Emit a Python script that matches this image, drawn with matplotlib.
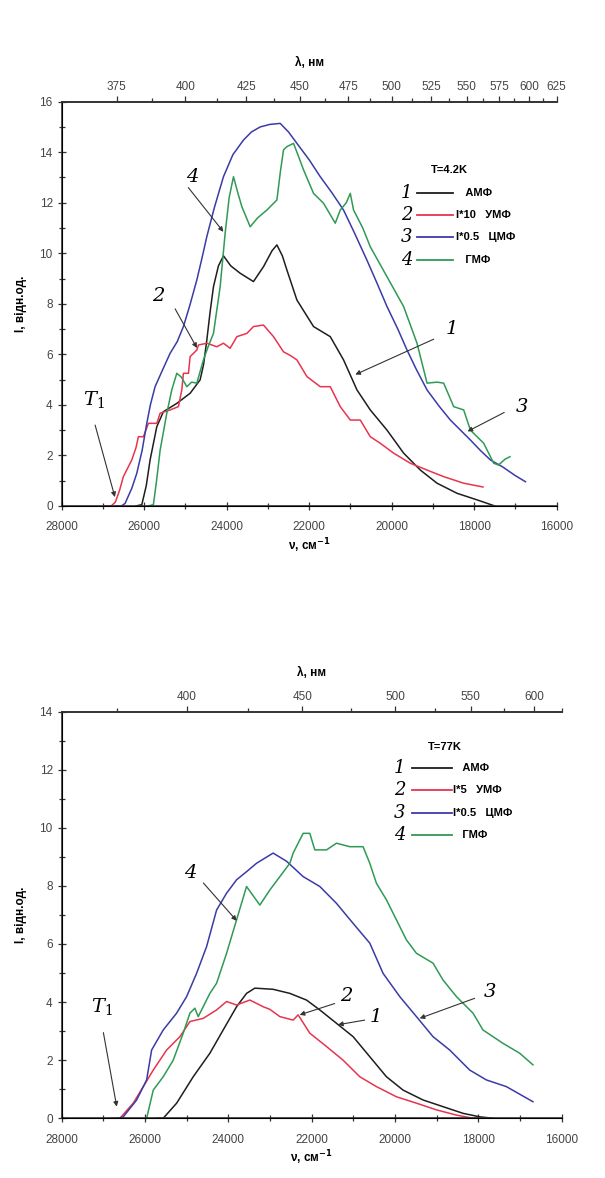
import matplotlib
matplotlib.use('Agg')
import matplotlib.pyplot as plt
from matplotlib.ticker import MultipleLocator

plt.rcParams['font.family'] = ['Liberation Sans', 'DejaVu Sans']

# --- T = 4.2 K (wavenumber, cm^-1 / intensity, arb. units) ---
amf_42_x = [26200, 26058, 25950, 25857, 25694, 25534, 25209, 24886, 24644, 24560, 24481, 24400,
            24320, 24200, 24078, 23900, 23673, 23350, 23107, 22900, 22782, 22650, 22540, 22297,
            21894, 21488, 21166, 20840, 20518, 20112, 19709, 19304, 18899, 18413, 17928, 17500]
amf_42_y = [0, 0.05, 0.8, 1.82, 3.14, 3.73, 4.06, 4.46, 4.99, 5.6, 6.57, 7.7,
            8.68, 9.5, 9.9, 9.5, 9.21, 8.88, 9.47, 10.1, 10.33, 9.9, 9.34, 8.15,
            7.1, 6.7, 5.78, 4.59, 3.8, 3.0, 2.09, 1.42, 0.9, 0.5, 0.24, 0.0]

umf_42_x = [26950, 26800, 26700, 26600, 26505, 26400, 26301, 26200, 26140, 26019, 25898, 25694,
            25614, 25372, 25170, 25088, 25049, 24927, 24886, 24724, 24684, 24481, 24238, 24078,
            23916, 23753, 23510, 23350, 23107, 22864, 22622, 22450, 22297, 22054, 21731, 21488,
            21246, 21003, 20760, 20518, 20275, 19952, 19547, 19141, 18738, 18253, 17785]
umf_42_y = [0, 0, 0.15, 0.6, 1.16, 1.5, 1.82, 2.3, 2.74, 2.74, 3.27, 3.27,
            3.67, 3.8, 3.93, 4.59, 5.25, 5.25, 5.91, 6.17, 6.37, 6.44, 6.3, 6.44,
            6.24, 6.7, 6.83, 7.1, 7.16, 6.7, 6.1, 5.95, 5.78, 5.12, 4.72, 4.72,
            3.93, 3.4, 3.4, 2.74, 2.48, 2.09, 1.69, 1.42, 1.16, 0.9, 0.75]

cmf_42_x = [26700, 26550, 26464, 26300, 26180, 26050, 25937, 25850, 25736, 25550, 25372, 25200,
            25049, 24900, 24724, 24600, 24481, 24300, 24078, 23850, 23593, 23400, 23187, 22950,
            22702, 22500, 22297, 22000, 21731, 21450, 21166, 20900, 20600, 20350, 20112, 19850,
            19627, 19400, 19141, 18850, 18576, 18300, 18090, 17850, 17605, 17313, 17000, 16756]
cmf_42_y = [0, 0, 0.1, 0.7, 1.29, 2.2, 3.27, 4.0, 4.72, 5.4, 6.04, 6.5,
            7.1, 7.9, 8.94, 9.8, 10.66, 11.8, 13.03, 13.9, 14.48, 14.8, 15.0, 15.1,
            15.14, 14.8, 14.35, 13.7, 13.03, 12.4, 11.71, 10.8, 9.73, 8.8, 7.89, 7.0,
            6.17, 5.4, 4.59, 3.95, 3.4, 2.95, 2.61, 2.2, 1.82, 1.55, 1.2, 0.96]

gmf_42_x = [25900, 25777, 25700, 25614, 25452, 25330, 25209, 25100, 24966, 24850, 24724, 24563,
            24450, 24320, 24158, 24037, 23940, 23835, 23731, 23631, 23430, 23250, 23025, 22782,
            22700, 22622, 22540, 22379, 22250, 22136, 21894, 21651, 21367, 21246, 21100, 21003,
            20923, 20700, 20518, 20112, 19709, 19385, 19141, 18900, 18738, 18495, 18253, 18090,
            17767, 17525, 17411, 17250, 17129]
gmf_42_y = [0, 0.05, 1.0, 2.2, 3.67, 4.6, 5.25, 5.1, 4.72, 4.9, 4.86, 5.78,
            6.3, 6.83, 8.68, 10.79, 12.2, 13.03, 12.4, 11.84, 11.05, 11.4, 11.71, 12.11,
            13.2, 14.09, 14.22, 14.35, 13.8, 13.3, 12.37, 11.98, 11.19, 11.71, 12.0, 12.37,
            11.71, 11.0, 10.26, 9.07, 7.89, 6.44, 4.86, 4.9, 4.86, 3.93, 3.8, 3.0,
            2.48, 1.69, 1.62, 1.85, 1.95]

# --- T = 77 K ---
amf_77_x = [25700, 25564, 25242, 24844, 24444, 24125, 23804, 23564, 23365, 22926, 22525, 22125,
            21806, 21406, 21007, 20607, 20207, 19808, 19329, 18849, 18369, 17970, 17650]
amf_77_y = [0, 0, 0.52, 1.43, 2.24, 3.04, 3.84, 4.3, 4.48, 4.44, 4.3, 4.07,
            3.73, 3.27, 2.81, 2.12, 1.43, 0.97, 0.63, 0.4, 0.17, 0.05, 0]

umf_77_x = [26800, 26602, 26450, 26283, 26043, 25803, 25482, 25163, 24923, 24604, 24283, 24043,
            23804, 23484, 23165, 23005, 22765, 22446, 22326, 22046, 21645, 21247, 20847, 20447,
            19967, 19487, 19008, 18528, 18130, 17900]
umf_77_y = [0, 0, 0.25, 0.52, 1.09, 1.66, 2.35, 2.81, 3.33, 3.44, 3.73, 4.02,
            3.9, 4.07, 3.84, 3.75, 3.5, 3.38, 3.56, 2.93, 2.47, 2.0, 1.43, 1.09,
            0.74, 0.52, 0.29, 0.11, 0, 0]

cmf_77_x = [26650, 26523, 26202, 25962, 25842, 25564, 25242, 25002, 24763, 24523, 24283, 24043,
            23804, 23564, 23324, 22926, 22605, 22206, 21806, 21406, 21007, 20607, 20288, 19888,
            19487, 19089, 18689, 18209, 17809, 17329, 16691]
cmf_77_y = [0, 0.05, 0.63, 1.32, 2.35, 3.04, 3.62, 4.19, 4.99, 5.91, 7.17, 7.75,
            8.21, 8.49, 8.78, 9.13, 8.85, 8.32, 7.98, 7.4, 6.71, 6.03, 4.99, 4.19,
            3.5, 2.81, 2.35, 1.66, 1.32, 1.09, 0.57]

gmf_77_x = [25962, 25803, 25564, 25324, 25084, 24923, 24804, 24724, 24444, 24283, 24043, 23804,
            23564, 23245, 23005, 22765, 22525, 22446, 22206, 22046, 21926, 21645, 21406, 21087,
            20768, 20607, 20447, 20207, 19967, 19727, 19487, 19089, 18849, 18528, 18130, 17890,
            17410, 17010, 16691]
gmf_77_y = [0, 0.97, 1.43, 2.0, 2.93, 3.62, 3.79, 3.5, 4.3, 4.65, 5.68, 6.83,
            7.98, 7.34, 7.86, 8.32, 8.78, 9.13, 9.81, 9.81, 9.24, 9.24, 9.47, 9.35,
            9.35, 8.78, 8.09, 7.52, 6.83, 6.14, 5.68, 5.34, 4.76, 4.19, 3.62, 3.04,
            2.58, 2.24, 1.84]

lam_top_major = [375, 400, 425, 450, 475, 500, 525, 550, 575, 600, 625]
lam_top_minor = [387.5, 412.5, 437.5, 462.5, 487.5, 512.5, 537.5, 562.5, 587.5, 612.5]
lam_bot_major = [400, 450, 500, 550, 600]
lam_bot_minor = [375, 425, 475, 525, 575, 625]

legend_names = ['АМФ', 'УМФ', 'ЦМФ', 'ГМФ']
scales_42 = ['', 'I*10', 'I*0.5', '']
scales_77 = ['', 'I*5', 'I*0.5', '']
colors = ['#1e1e1e', '#e8344e', '#3b3ba8', '#2f9a55']

TICK_C = '#444444'


def draw_panel(ax, curves, ymax, lam_major, lam_minor):
    for (x, y), c in zip(curves, colors):
        ax.plot(x, y, color=c, lw=1.1)
    ax.set_xlim(28000, 16000)
    ax.set_ylim(0, ymax)
    ax.xaxis.set_major_locator(MultipleLocator(2000))
    ax.xaxis.set_minor_locator(MultipleLocator(1000))
    ax.yaxis.set_major_locator(MultipleLocator(2))
    ax.yaxis.set_minor_locator(MultipleLocator(1))
    ax.spines['right'].set_visible(False)
    for s in ax.spines.values():
        s.set_linewidth(1.2)
        s.set_color('#333333')
    ax.tick_params(which='both', direction='inout', colors='#333333',
                   labelcolor=TICK_C, labelsize=8.5, width=0.9)
    ax.tick_params(which='major', length=6)
    ax.tick_params(which='minor', length=4)
    ax.tick_params(axis='x', pad=8)
    ax.set_ylabel('I, відн.од.', fontsize=8.5, fontweight='bold', labelpad=9)
    ax.set_xlabel(r'ν, см$^{\mathbf{-1}}$', fontsize=8.5, fontweight='bold', labelpad=2)

    top = ax.twiny()
    top.set_xlim(ax.get_xlim())
    top.set_xticks([1e7 / l for l in lam_major])
    top.set_xticklabels([str(l) for l in lam_major])
    top.set_xticks([1e7 / l for l in lam_minor], minor=True)
    top.spines['right'].set_visible(False)
    top.spines['top'].set_linewidth(1.2)
    top.spines['top'].set_color('#333333')
    top.tick_params(which='both', direction='out', colors='#333333',
                    labelcolor=TICK_C, labelsize=8.5, width=0.9, pad=2)
    top.tick_params(which='major', length=4)
    top.tick_params(which='minor', length=3)
    top.set_xlabel('λ, нм', fontsize=8.5, fontweight='bold', labelpad=11)


def draw_legend(ax, title, scales, tx, ty, nx, x0, x1, lx, rows):
    ax.text(tx, ty, title, transform=ax.transAxes, ha='center', va='center',
            fontsize=8, fontweight='bold')
    for i, (name, sc, c, ry) in enumerate(zip(legend_names, scales, colors, rows)):
        ax.text(nx, ry, str(i + 1), transform=ax.transAxes, ha='center', va='center',
                fontsize=13, family='DejaVu Serif', style='italic')
        ax.plot([x0, x1], [ry, ry], transform=ax.transAxes, color=c, lw=1.3)
        label = f'{sc}   {name}' if sc else f'   {name}'
        ax.text(lx, ry, label, transform=ax.transAxes, ha='left', va='center',
                fontsize=8, fontweight='bold')


def mark(ax, label, text_xy, start, tip):
    ax.text(text_xy[0], text_xy[1], label, ha='center', va='center', fontsize=14,
            family='DejaVu Serif', style='italic', math_fontfamily='dejavuserif')
    ax.annotate('', xy=tip, xytext=start,
                arrowprops=dict(arrowstyle='-|>', lw=0.8, color='#333333',
                                mutation_scale=7, shrinkA=0, shrinkB=0))


fig = plt.figure(figsize=(6.05, 11.78), dpi=100)

ax1 = fig.add_axes([0.102, 0.5705, 0.818, 0.3432])
draw_panel(ax1, [(amf_42_x, amf_42_y), (umf_42_x, umf_42_y),
                 (cmf_42_x, cmf_42_y), (gmf_42_x, gmf_42_y)],
           16, lam_top_major, lam_top_minor)
draw_legend(ax1, 'T=4.2K', scales_42, 0.784, 0.831, 0.697, 0.717, 0.791, 0.797,
            [0.773, 0.720, 0.665, 0.608])
mark(ax1, r'$T_1$', (27230, 4.2), (27190, 3.2), (26710, 0.35))
mark(ax1, '4', (24840, 13.0), (24930, 12.6), (24080, 10.85))
mark(ax1, '2', (25650, 8.3), (25250, 7.8), (24720, 6.25))
mark(ax1, '1', (18530, 7.0), (18980, 6.6), (20880, 5.2))
mark(ax1, '3', (16850, 3.9), (17270, 3.7), (18160, 2.95))

ax2 = fig.add_axes([0.102, 0.0507, 0.8265, 0.3452])
draw_panel(ax2, [(amf_77_x, amf_77_y), (umf_77_x, umf_77_y),
                 (cmf_77_x, cmf_77_y), (gmf_77_x, gmf_77_y)],
           14, lam_bot_major, lam_bot_minor)
draw_legend(ax2, 'T=77K', scales_77, 0.766, 0.914, 0.676, 0.70, 0.78, 0.782,
            [0.861, 0.807, 0.750, 0.697])
mark(ax2, r'$T_1$', (27040, 3.85), (27000, 2.95), (26680, 0.4))
mark(ax2, '4', (24920, 8.45), (24600, 8.1), (23800, 6.8))
mark(ax2, '2', (21170, 4.2), (21450, 3.95), (22290, 3.56))
mark(ax2, '1', (20450, 3.5), (20730, 3.38), (21370, 3.22))
mark(ax2, '3', (17730, 4.36), (18090, 4.13), (19410, 3.44))

fig.savefig('out.png', dpi=100, facecolor='white')
